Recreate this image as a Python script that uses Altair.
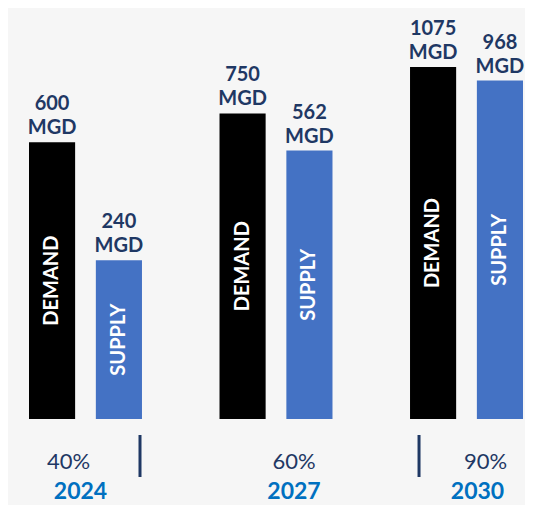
import altair as alt
import pandas as pd

# ---- data ----
years = ["2024", "2027", "2030"]
demand = [600, 750, 1075]
supply = [240, 562, 968]
coverage = ["40%", "60%", "90%"]
series = ["DEMAND", "SUPPLY"]
unit = "MGD"
base_value = 70  # floor of the (log) value scale

rows = []
for y, d, s in zip(years, demand, supply):
    rows.append({"year": y, "type": series[0], "value": d})
    rows.append({"year": y, "type": series[1], "value": s})
df = pd.DataFrame(rows)
df["label"] = df["value"].astype(str) + "\n" + unit
df_bottom = pd.DataFrame({"year": years, "pct": coverage})

FONT = "Lato"
NAVY = "#1f3864"

xscale = alt.Scale(domain=years, range=[21, 515], paddingInner=0.407, paddingOuter=0)
yscale = alt.Scale(type="log", domain=[base_value, 1700], range=[411, 0], nice=False, zero=False)
X = alt.X("year:N", scale=xscale, axis=None)
XO = alt.XOffset("type:N", scale=alt.Scale(domain=series, paddingInner=0.31, paddingOuter=0))
Y = alt.Y("value:Q", scale=yscale, axis=None)

bars = alt.Chart(df).mark_bar().encode(
    x=X, xOffset=XO, y=Y, y2=alt.datum(base_value),
    color=alt.Color("type:N", scale=alt.Scale(domain=series, range=["#000000", "#4472c4"]), legend=None),
)

labels = alt.Chart(df).mark_text(
    font=FONT, fontWeight="bold", fontSize=20, color=NAVY,
    baseline="bottom", align="center", lineBreak="\n", lineHeight=24, dy=-28,
).encode(x=X, xOffset=XO, y=Y, text="label:N")

inside = alt.Chart(df).transform_calculate(
    mid=f"sqrt(datum.value * {base_value})"
).mark_text(
    font=FONT, fontWeight="bold", fontSize=20, color="white",
    angle=270, align="center", baseline="middle",
).encode(x=X, xOffset=XO, y=alt.Y("mid:Q", scale=yscale, axis=None), text="type:N")

layers = [bars, labels, inside]

pct_dx = {"2024": -17, "2027": 18, "2030": 19}
year_dx = {"2024": -5, "2027": 18, "2030": 11}
for yr in years:
    layers.append(
        alt.Chart(df_bottom).transform_filter(alt.datum.year == yr).mark_text(
            font=FONT, fontSize=22, color=NAVY, baseline="alphabetic", align="center",
            dx=pct_dx[yr], dy=50,
        ).encode(x=X, y=alt.datum(base_value), text="pct:N")
    )
    layers.append(
        alt.Chart(df_bottom).transform_filter(alt.datum.year == yr).mark_text(
            font=FONT, fontSize=23, fontWeight="bold", color="#0070c0", baseline="alphabetic",
            align="center", dx=year_dx[yr], dy=80,
        ).encode(x=X, y=alt.datum(base_value), text="year:N")
    )

sep_offset = {"2024": 111, "2030": 9}
for yr, off in sep_offset.items():
    layers.append(
        alt.Chart(df_bottom).transform_filter(alt.datum.year == yr).mark_rule(
            color=NAVY, strokeWidth=3, xOffset=off, yOffset=16, y2Offset=58,
        ).encode(
            x=alt.X("year:N", scale=xscale, axis=None, bandPosition=0),
            y=alt.datum(base_value), y2=alt.datum(base_value),
        )
    )

chart = alt.layer(*layers).properties(
    width=517, height=497, padding=0,
    autosize=alt.AutoSizeParams(type="none"),
    background="#f6f6f6",
).configure_view(stroke=None)

chart.save("out.html", embed_options={"renderer": "svg", "actions": False})
